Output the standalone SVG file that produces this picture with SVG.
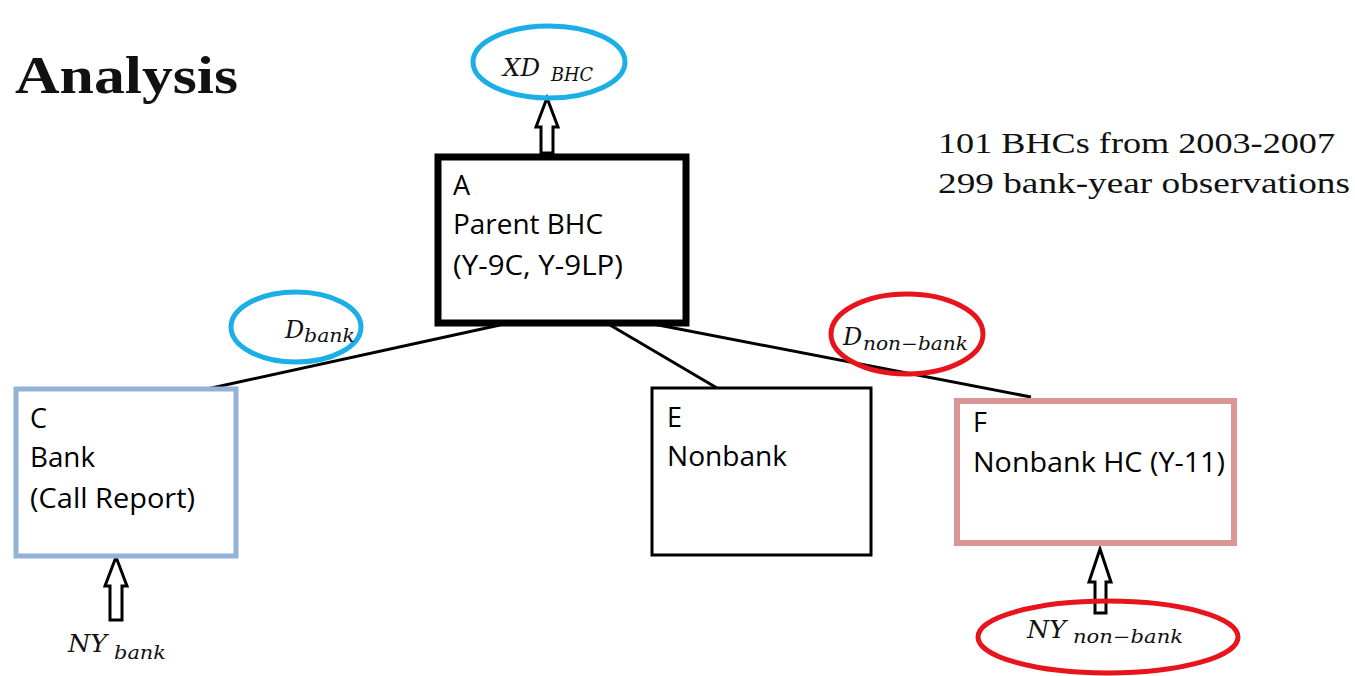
<svg xmlns="http://www.w3.org/2000/svg" width="1355" height="676" viewBox="0 0 1355 676">
<style>
.lbl{font-family:"Open Sans","Liberation Sans",sans-serif;font-size:27px;fill:#000}
.math{font-family:"DejaVu Serif","Liberation Serif",serif;font-style:italic;fill:#111}
.cm{font-family:"Liberation Serif","DejaVu Serif",serif;fill:#111}
.arr{fill:#fff;stroke:#000;stroke-width:3;stroke-linejoin:miter}
.conn{stroke:#000;stroke-width:3;fill:none}
</style>
<rect width="1355" height="676" fill="#fff"/>
<text class="cm" x="15" y="93" font-size="52" font-weight="bold" textLength="223" lengthAdjust="spacingAndGlyphs">Analysis</text>
<text class="cm" x="938" y="153" font-size="30" textLength="397" lengthAdjust="spacingAndGlyphs">101 BHCs from 2003-2007</text>
<text class="cm" x="938" y="193" font-size="30" textLength="412" lengthAdjust="spacingAndGlyphs">299 bank-year observations</text>

<g id="connectors">
<line class="conn" x1="500" y1="325" x2="207" y2="389"/>
<line class="conn" x1="610" y1="325" x2="717" y2="388"/>
<line class="conn" x1="648" y1="323" x2="1031" y2="397"/>
<polygon class="arr" points="547,98 558,127 553,127 553,153 541,153 541,127 536,127"/>
<polygon class="arr" points="116,557 127,586 122,586 122,620 110,620 110,586 105,586"/>
<polygon class="arr" points="1100,549 1111,582 1106,582 1106,613 1095,613 1095,582 1089,582"/>
</g>

<g id="nodeA">
<rect x="438" y="157" width="248" height="166" fill="#fff" stroke="#000" stroke-width="7"/>
<text class="lbl" x="453" y="195">A</text>
<text class="lbl" x="453" y="234" textLength="150" lengthAdjust="spacingAndGlyphs">Parent BHC</text>
<text class="lbl" x="453" y="275" textLength="170" lengthAdjust="spacingAndGlyphs">(Y-9C, Y-9LP)</text>
</g>
<g id="nodeC">
<rect x="16" y="389" width="220" height="167" fill="#fff" stroke="#93b2d7" stroke-width="5"/>
<text class="lbl" x="30" y="428">C</text>
<text class="lbl" x="30" y="467" textLength="65" lengthAdjust="spacingAndGlyphs">Bank</text>
<text class="lbl" x="30" y="508" textLength="165" lengthAdjust="spacingAndGlyphs">(Call Report)</text>
</g>
<g id="nodeE">
<rect x="652" y="388" width="219" height="167" fill="#fff" stroke="#000" stroke-width="3"/>
<text class="lbl" x="667" y="427">E</text>
<text class="lbl" x="667" y="466" textLength="120" lengthAdjust="spacingAndGlyphs">Nonbank</text>
</g>
<g id="nodeF">
<rect x="957" y="401" width="277" height="142" fill="#fff" stroke="#d99694" stroke-width="6"/>
<text class="lbl" x="973" y="432">F</text>
<text class="lbl" x="973" y="472" textLength="252" lengthAdjust="spacingAndGlyphs">Nonbank HC (Y-11)</text>
</g>

<g id="XD">
<ellipse cx="549" cy="62" rx="76" ry="36" fill="none" stroke="#1aafe6" stroke-width="5"/>
<text class="math" x="503" y="76" font-size="24" textLength="37" lengthAdjust="spacingAndGlyphs">XD</text>
<text class="math" x="551" y="81" font-size="18" textLength="42" lengthAdjust="spacingAndGlyphs">BHC</text>
</g>
<g id="Dbank">
<ellipse cx="296" cy="327" rx="65" ry="35" fill="none" stroke="#1aafe6" stroke-width="5"/>
<text class="math" x="285" y="338" font-size="24">D</text>
<text class="math" x="304" y="342" font-size="18" textLength="51" lengthAdjust="spacingAndGlyphs">bank</text>
</g>
<g id="Dnonbank">
<ellipse cx="907" cy="334" rx="76" ry="40" fill="none" stroke="#e8141b" stroke-width="5"/>
<text class="math" x="843" y="345" font-size="24">D</text>
<text class="math" x="863" y="350" font-size="18" textLength="105" lengthAdjust="spacingAndGlyphs">non−bank</text>
</g>
<g id="NYbank">
<text class="math" x="68" y="652" font-size="24" textLength="39" lengthAdjust="spacingAndGlyphs">NY</text>
<text class="math" x="114" y="659" font-size="18" textLength="52" lengthAdjust="spacingAndGlyphs">bank</text>
</g>
<g id="NYnonbank">
<ellipse cx="1108" cy="637" rx="130" ry="36" fill="none" stroke="#e8141b" stroke-width="5"/>
<text class="math" x="1027" y="638" font-size="24" textLength="39" lengthAdjust="spacingAndGlyphs">NY</text>
<text class="math" x="1073" y="643" font-size="18" textLength="110" lengthAdjust="spacingAndGlyphs">non−bank</text>
</g>
</svg>
